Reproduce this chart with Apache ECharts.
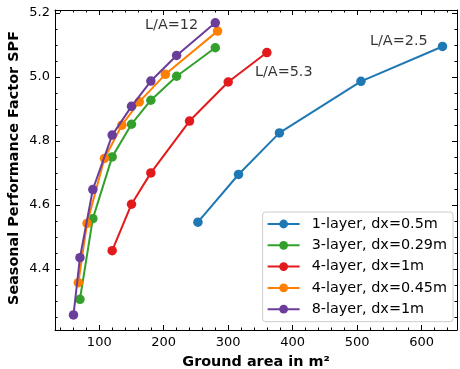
<!DOCTYPE html>
<html>
<head>
<meta charset="utf-8">
<script src="https://cdn.jsdelivr.net/npm/echarts@6/dist/echarts.min.js"></script>
<style>html,body{margin:0;padding:0;background:#fff}#c{width:460px;height:369px}</style>
</head>
<body>
<div id="c"></div>
<script>
const seriesNames = ['1-layer, dx=0.5m','3-layer, dx=0.29m','4-layer, dx=1m','4-layer, dx=0.45m','8-layer, dx=1m'];
const colors = ['#1f78b4','#33a02c','#e31a1c','#ff7f00','#6a3d9a'];
const x1 = [253, 316, 379.5, 506, 632.5];
const y1 = [4.546, 4.695, 4.825, 4.986, 5.095];
const x3 = [70, 90, 120, 150, 180, 220, 280];
const y3 = [4.305, 4.557, 4.750, 4.852, 4.927, 5.002, 5.091];
const x4 = [120, 150, 180, 240, 300, 360];
const y4 = [4.457, 4.602, 4.700, 4.862, 4.984, 5.076];
const x4b = [67.5, 81, 108, 135, 162, 202.5, 283.5];
const y4b = [4.357, 4.542, 4.745, 4.849, 4.922, 5.008, 5.143];
const x8 = [60, 70, 90, 120, 150, 180, 220, 280];
const y8 = [4.256, 4.435, 4.648, 4.818, 4.908, 4.987, 5.067, 5.169];
const annText = ['L/A=12','L/A=5.3','L/A=2.5'];
const annX = [171, 341.5, 520];
const annY = [5.161, 5.014, 5.111];
const xMajor = [100, 200, 300, 400, 500, 600];
const xMinor = [40, 60, 80, 120, 140, 160, 180, 220, 240, 260, 280, 320, 340, 360, 380, 420, 440, 460, 480, 520, 540, 560, 580, 620, 640];
const yMajor = [4.4, 4.6, 4.8, 5.0, 5.2];
const yMinor = [4.25, 4.3, 4.35, 4.45, 4.5, 4.55, 4.65, 4.7, 4.75, 4.85, 4.9, 4.95, 5.05, 5.1, 5.15];
const xLabels = ['100','200','300','400','500','600'];
const yLabels = ['4.4','4.6','4.8','5.0','5.2'];

const font = 'DejaVu Sans';
const xs = [x1, x3, x4, x4b, x8];
const ys = [y1, y3, y4, y4b, y8];
const XMIN = 31.3, XMAX = 655, YMIN = 4.209, YMAX = 5.209;

function xAx(pos, vals, len, line, labels) {
  return {
    type: 'value', position: pos, min: XMIN, max: XMAX,
    axisLine: {show: line, lineStyle: {color: '#000', width: 1}},
    axisTick: {show: true, inside: true, length: len, customValues: vals, lineStyle: {color: '#000', width: 1}},
    axisLabel: labels ? {show: true, customValues: vals, fontFamily: font, fontSize: 13, color: '#000', margin: 6,
      formatter: v => xLabels[xMajor.indexOf(v)] ?? String(v)} : {show: false},
    splitLine: {show: false}
  };
}
function yAx(pos, vals, len, line, labels) {
  return {
    type: 'value', position: pos, min: YMIN, max: YMAX,
    axisLine: {show: line, lineStyle: {color: '#000', width: 1}},
    axisTick: {show: true, inside: true, length: len, customValues: vals, lineStyle: {color: '#000', width: 1}},
    axisLabel: labels ? {show: true, customValues: vals, fontFamily: font, fontSize: 13, color: '#000', margin: 5,
      formatter: v => { const i = yMajor.findIndex(m => Math.abs(m - v) < 1e-6); return i >= 0 ? yLabels[i] : v.toFixed(1); }} : {show: false},
    splitLine: {show: false}
  };
}

const series = seriesNames.map((n, i) => ({
  name: n, type: 'line', xAxisIndex: 0, yAxisIndex: 0,
  data: xs[i].map((x, j) => [x, ys[i][j]]),
  symbol: 'circle', symbolSize: 9.5, showSymbol: true,
  lineStyle: {color: colors[i], width: 2},
  itemStyle: {color: colors[i]},
  z: 2 + i, animation: false
}));
series.push({
  name: 'ann', type: 'scatter', xAxisIndex: 0, yAxisIndex: 0, symbolSize: 0,
  data: annX.map((x, i) => ({value: [x, annY[i]], name: annText[i]})),
  label: {show: true, position: 'inside', formatter: p => p.name, align: 'left', verticalAlign: 'middle',
    fontFamily: font, fontSize: 14.4, color: '#000'},
  silent: true, animation: false
});

const chart = echarts.init(document.getElementById('c'), null, {renderer: 'canvas'});
chart.setOption({
  animation: false,
  backgroundColor: '#fff',
  grid: {left: 55, right: 3, top: 10, bottom: 39, containLabel: false},
  xAxis: [xAx('bottom', xMajor, 5, true, true), xAx('bottom', xMinor, 2.5, false, false),
          xAx('top', xMajor, 5, true, false), xAx('top', xMinor, 2.5, false, false)],
  yAxis: [yAx('left', yMajor, 5, true, true), yAx('left', yMinor, 2.5, false, false),
          yAx('right', yMajor, 5, true, false), yAx('right', yMinor, 2.5, false, false)],
  legend: {
    data: seriesNames, orient: 'vertical', right: 7, top: 212,
    itemWidth: 32, itemHeight: 11, itemGap: 7.3,
    padding: [5, 6, 5.5, 4],
    backgroundColor: 'rgba(255,255,255,0.8)', borderColor: '#cccccc', borderWidth: 1, borderRadius: 3,
    textStyle: {fontFamily: font, fontSize: 14.4, lineHeight: 14, color: '#000', padding: [0, 0, 0, 7]},
    selectedMode: false
  },
  graphic: [
    {type: 'text', x: 256, y: 362, style: {text: 'Ground area in m²', font: 'bold 14.4px "DejaVu Sans"', fill: '#000', align: 'center', verticalAlign: 'middle'}},
    {type: 'text', x: 14, y: 168, rotation: Math.PI / 2, style: {text: 'Seasonal Performance Factor SPF', font: 'bold 14.4px "DejaVu Sans"', fill: '#000', align: 'center', verticalAlign: 'middle'}}
  ],
  series: series
});
</script>
</body>
</html>
